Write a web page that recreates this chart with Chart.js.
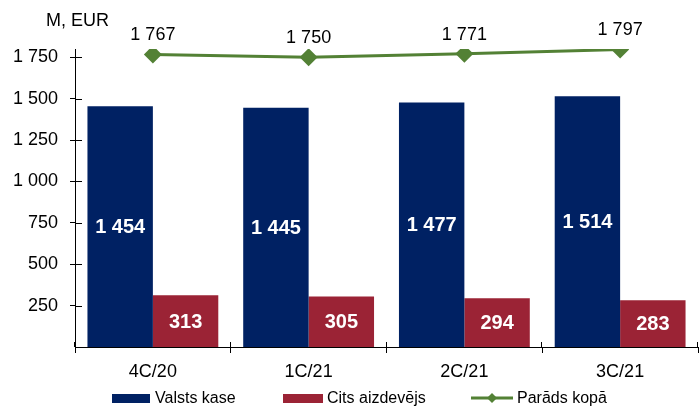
<!DOCTYPE html>
<html>
<head>
<meta charset="utf-8">
<script src="https://cdn.jsdelivr.net/npm/chart.js@4"></script>
<style>
	html, body { margin: 0; padding: 0; background: #fff; }
	#wrap { width: 699px; height: 406px; position: relative; }
</style>
</head>
<body>
<div id="wrap"><canvas id="debtChart"></canvas></div>
<script>
var quarters   = ['4C/20', '1C/21', '2C/21', '3C/21'];
var treasury   = [1454, 1445, 1477, 1514];
var otherLender = [313, 305, 294, 283];
var totalDebt  = [1767, 1750, 1771, 1797];
var yTicks     = [250, 500, 750, 1000, 1250, 1500, 1750];

var FONT = '"Liberation Sans", Arial, sans-serif';

function fmt(v){
	return String(v).replace(/\B(?=(\d{3})+(?!\d))/g, ' ');
}

// value labels, unit caption, inner halves of the tick marks, legend
var extras = {
	id: 'extras',
	afterDatasetsDraw: function(chart){
		var ctx = chart.ctx;
		ctx.save();
		ctx.textAlign = 'center';
		ctx.textBaseline = 'middle';

		[0, 1].forEach(function(i){
			var meta = chart.getDatasetMeta(i);
			meta.data.forEach(function(bar, j){
				ctx.font = 'bold 20px ' + FONT;
				ctx.fillStyle = '#fff';
				ctx.fillText(fmt(chart.data.datasets[i].data[j]), bar.x, (bar.y + bar.base) / 2 + 1);
			});
		});

		var line = chart.getDatasetMeta(2);
		line.data.forEach(function(pt, j){
			ctx.font = '18px ' + FONT;
			ctx.fillStyle = '#000';
			ctx.fillText(fmt(totalDebt[j]), pt.x, pt.y - 19);
		});
		ctx.restore();
	},
	afterDraw: function(chart){
		var ctx = chart.ctx;
		var area = chart.chartArea;
		var y = chart.scales.y;
		ctx.save();

		ctx.strokeStyle = '#000';
		ctx.lineWidth = 1;
		ctx.beginPath();
		yTicks.forEach(function(v){
			var py = Math.round(y.getPixelForValue(v)) + 0.5;
			ctx.moveTo(area.left, py);
			ctx.lineTo(area.left + 7, py);
		});
		for (var k = 0; k <= quarters.length; k++){
			var px = Math.round(area.left + (area.right - area.left) * k / quarters.length) - 0.5;
			ctx.moveTo(px, area.bottom);
			ctx.lineTo(px, area.bottom - 5);
		}
		ctx.stroke();

		ctx.font = '18px ' + FONT;
		ctx.fillStyle = '#000';
		ctx.textBaseline = 'middle';
		ctx.textAlign = 'left';
		ctx.fillText('M, EUR', 46, 21);

		// legend
		var ly = 398;
		var ds = chart.data.datasets;
		ctx.font = '16px ' + FONT;
		ctx.fillStyle = ds[0].backgroundColor;
		ctx.fillRect(112, ly - 4, 38, 9);
		ctx.fillStyle = '#000';
		ctx.fillText(ds[0].label, 155, ly + 1);

		ctx.fillStyle = ds[1].backgroundColor;
		ctx.fillRect(283, ly - 4, 40, 9);
		ctx.fillStyle = '#000';
		ctx.fillText(ds[1].label, 327, ly + 1);

		ctx.strokeStyle = ds[2].borderColor;
		ctx.lineWidth = 3;
		ctx.beginPath();
		ctx.moveTo(471, ly);
		ctx.lineTo(513, ly);
		ctx.stroke();
		ctx.fillStyle = ds[2].borderColor;
		ctx.beginPath();
		ctx.moveTo(492, ly - 5);
		ctx.lineTo(497, ly);
		ctx.lineTo(492, ly + 5);
		ctx.lineTo(487, ly);
		ctx.closePath();
		ctx.fill();
		ctx.fillStyle = '#000';
		ctx.fillText(ds[2].label, 517, ly + 1);

		ctx.restore();
	}
};

var ctx = document.getElementById('debtChart').getContext('2d');
var chart = new Chart(ctx, {
	type: 'bar',
	data: {
		labels: quarters,
		datasets: [
			{
				label: 'Valsts kase',
				data: treasury,
				backgroundColor: '#002163',
				categoryPercentage: 0.84,
				barPercentage: 1,
				order: 2
			},
			{
				label: 'Cits aizdevējs',
				data: otherLender,
				backgroundColor: '#9b2335',
				categoryPercentage: 0.84,
				barPercentage: 1,
				order: 2
			},
			{
				type: 'line',
				label: 'Parāds kopā',
				data: totalDebt,
				borderColor: '#538135',
				backgroundColor: '#538135',
				borderWidth: 3,
				pointStyle: 'rectRot',
				pointRadius: 9,
				pointBackgroundColor: '#538135',
				pointBorderWidth: 0,
				tension: 0,
				order: 1
			}
		]
	},
	options: {
		responsive: true,
		maintainAspectRatio: false,
		animation: false,
		layout: { autoPadding: false, padding: { top: 49, right: 1, bottom: 24, left: 0 } },
		plugins: {
			legend: { display: false },
			tooltip: { enabled: false }
		},
		scales: {
			x: {
				offset: true,
				grid: {
					offset: true,
					drawOnChartArea: false,
					drawTicks: true,
					tickLength: 6,
					color: '#000'
				},
				border: { color: '#000', width: 1 },
				ticks: {
					color: '#000',
					padding: 8,
					font: { family: FONT, size: 18 }
				},
				afterFit: function(scale){
					scale.height = 35;
					scale.paddingLeft = 0;
					scale.paddingRight = 0;
				}
			},
			y: {
				min: 0,
				max: 1800,
				afterBuildTicks: function(scale){
					scale.ticks = yTicks.map(function(v){ return { value: v }; });
				},
				grid: {
					drawOnChartArea: false,
					drawTicks: true,
					tickLength: 5,
					color: '#000'
				},
				border: { color: '#000', width: 1 },
				ticks: {
					color: '#000',
					padding: 12,
					font: { family: FONT, size: 18 },
					callback: function(v){ return fmt(v); }
				},
				afterFit: function(scale){
					scale.width = 75;
					scale.paddingTop = 0;
					scale.paddingBottom = 0;
				}
			}
		}
	},
	plugins: [extras]
});
</script>
</body>
</html>
